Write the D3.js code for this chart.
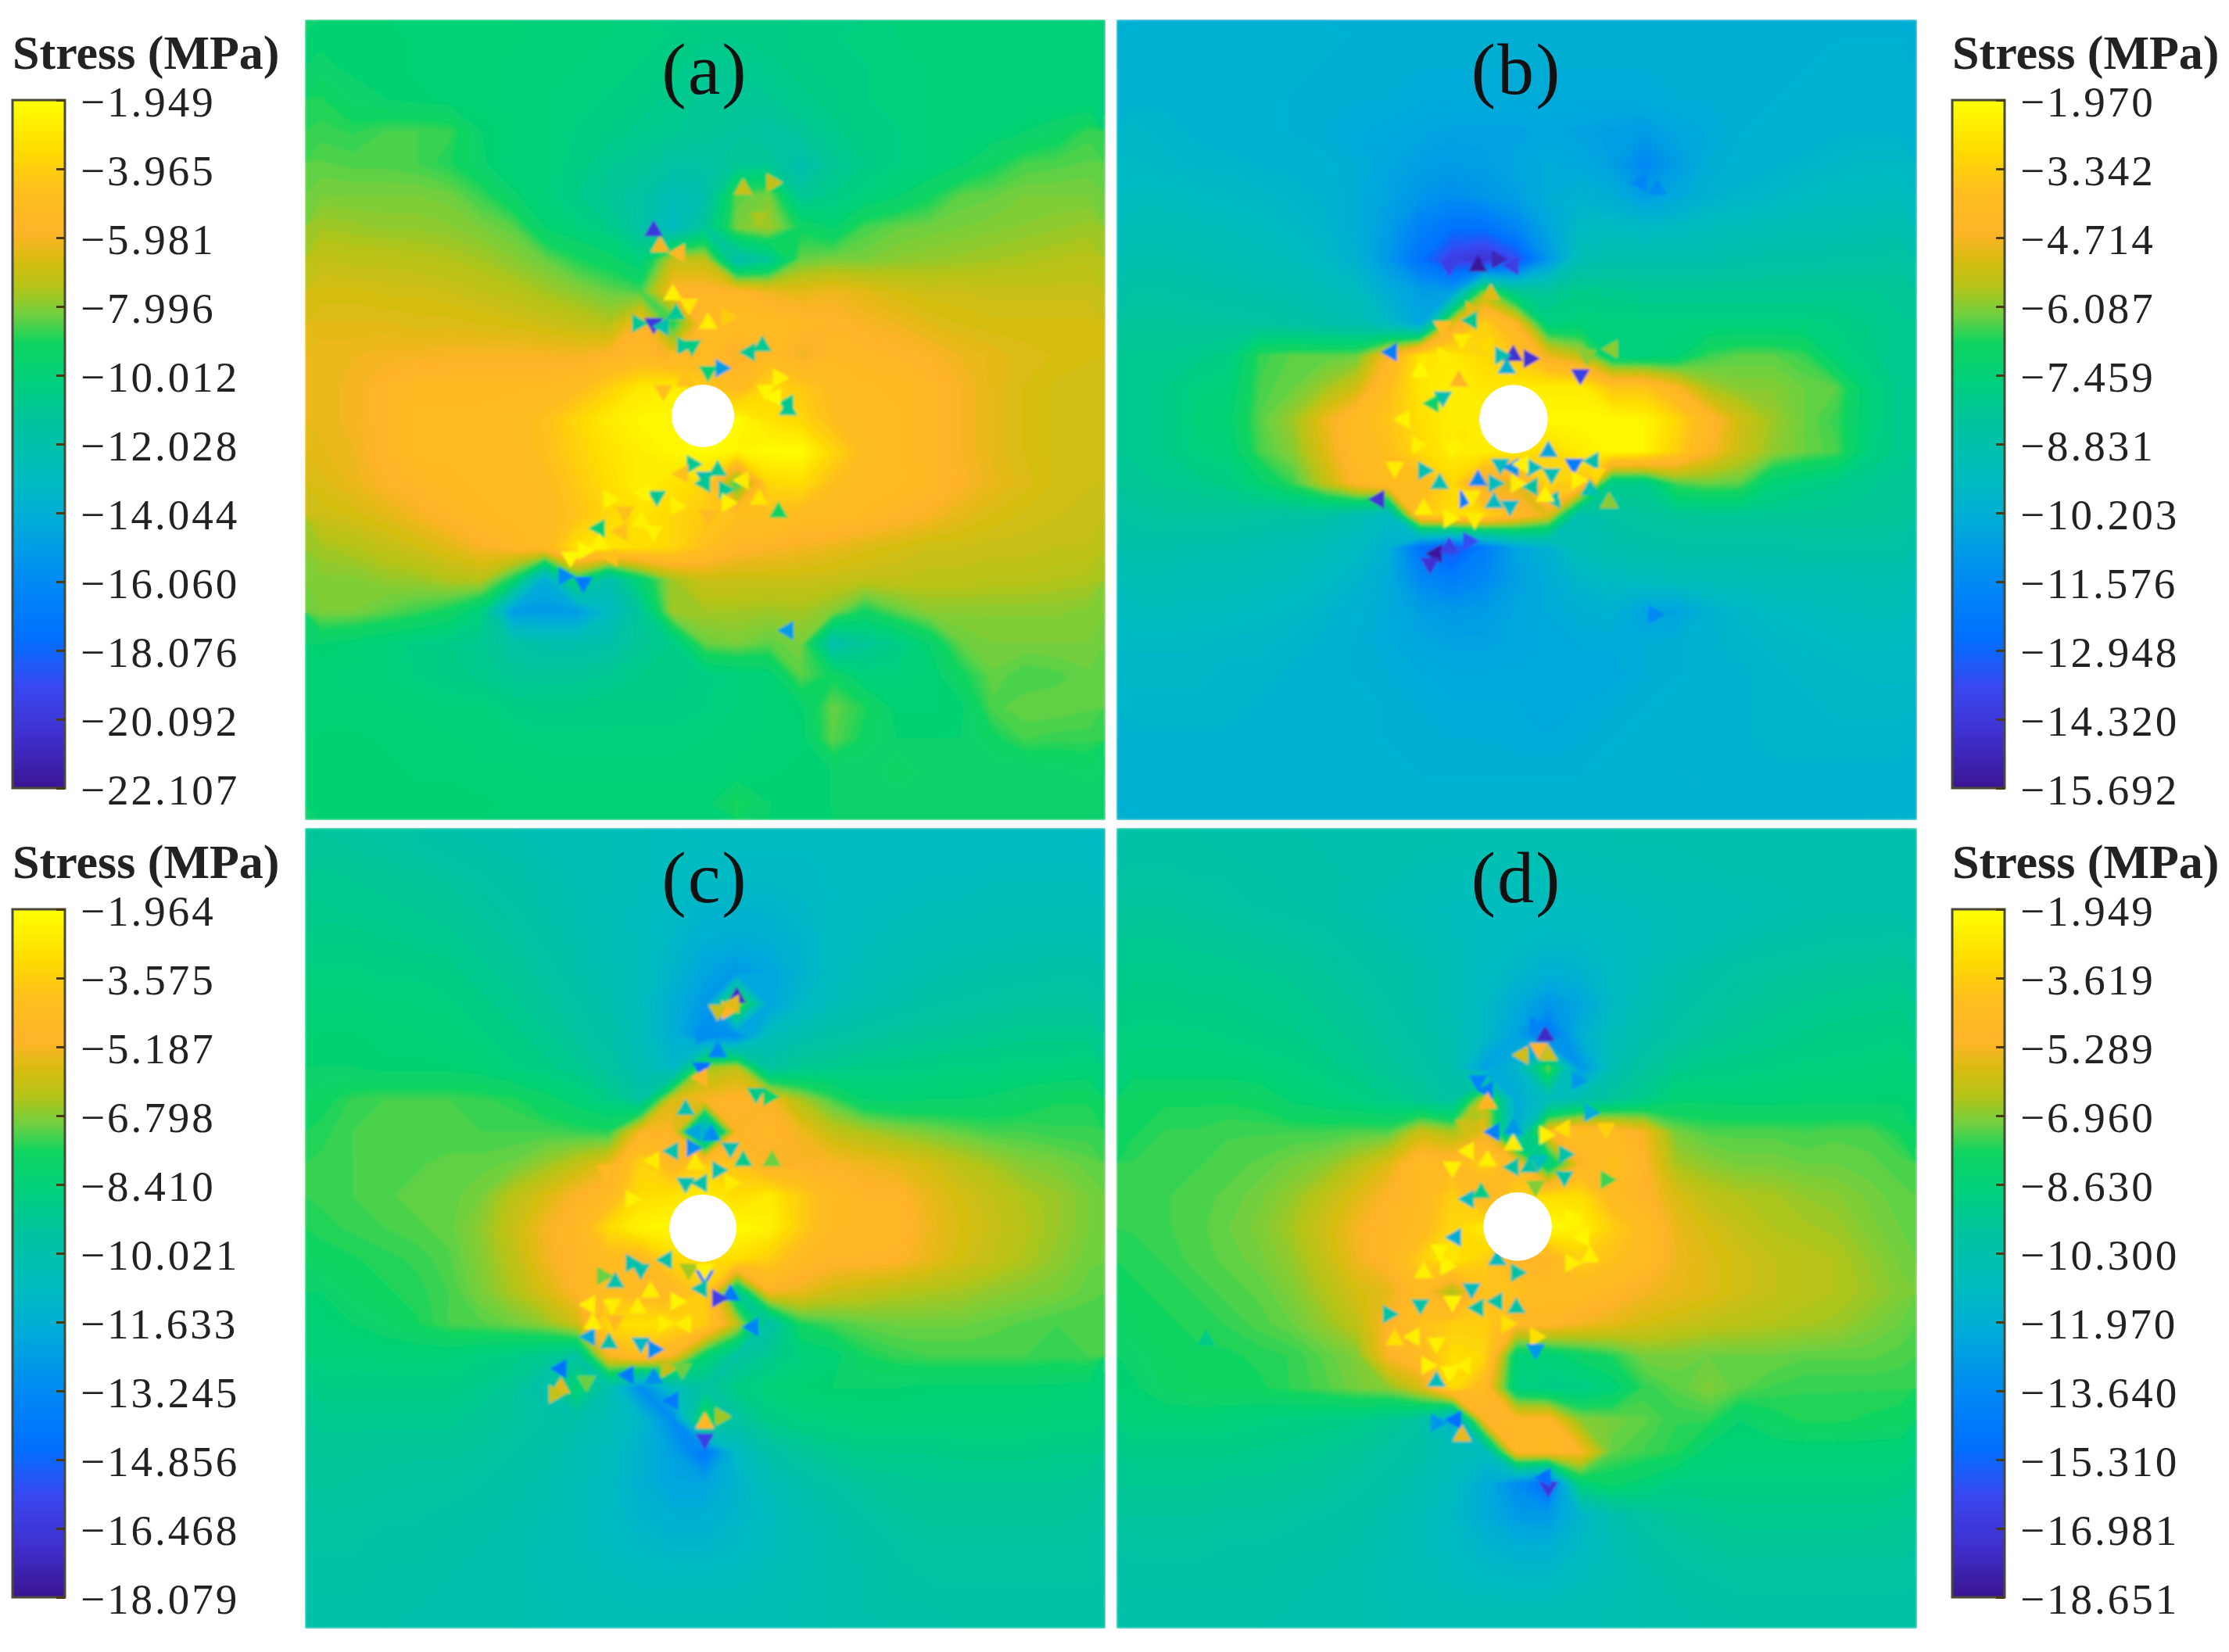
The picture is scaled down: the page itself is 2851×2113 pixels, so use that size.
<!DOCTYPE html>
<html>
<head>
<meta charset="utf-8">
<script src="https://cdn.jsdelivr.net/npm/d3@7"></script>
<style>
  html, body { margin: 0; background: #fff; }
  text { font-family: "Liberation Serif", serif; fill: #222; }
  .axis text { font-size: 55px; letter-spacing: 3px; }
  .axis line { stroke: #4a3a10; stroke-width: 3px; }
  .axis path { display: none; }
  .title { font-size: 62px; font-weight: bold; }
  .label { font-size: 94px; text-anchor: middle; fill: #111; letter-spacing: 2px; }
</style>
</head>
<body>
<svg width="2851" height="2113"></svg>
<script>
// legend ticks (MPa)
var ticksA = [-1.949, -3.965, -5.981, -7.996, -10.012, -12.028, -14.044, -16.060, -18.076, -20.092, -22.107];
var ticksB = [-1.970, -3.342, -4.714, -6.087, -7.459, -8.831, -10.203, -11.576, -12.948, -14.320, -15.692];
var ticksC = [-1.964, -3.575, -5.187, -6.798, -8.410, -10.021, -11.633, -13.245, -14.856, -16.468, -18.079];
var ticksD = [-1.949, -3.619, -5.289, -6.960, -8.630, -10.300, -11.970, -13.640, -15.310, -16.981, -18.651];

var labels = ["(a)", "(b)", "(c)", "(d)"];

// colour bar stops: fraction from top of bar -> colour
var barStops = [0, .07, .13, .19, .23, .27, .31, .35, .40, .47, .55, .62, .70, .78, .85, .92, 1];
var barColors = ["#ffff00", "#ffdc00", "#ffbe1e", "#ffb428", "#d8bc10", "#b4c418", "#70d040", "#10d460", "#00d078",
                 "#00c4a0", "#00bcc0", "#00a8dc", "#0088f4", "#0070ff", "#3848f0", "#4030d0", "#3a1490"];

// stress, on a 25 x 25 grid (MPa)
var stressA = [
[-9.6,-9.6,-9.6,-9.7,-9.7,-9.8,-9.8,-9.9,-10,-10,-10.1,-10.2,-10.4,-10.5,-10.4,-10.3,-10.2,-10.1,-10,-10,-10,-10,-10,-10,-10],
[-9.4,-9.6,-9.6,-9.7,-9.7,-9.8,-9.9,-10,-10,-10.1,-10.2,-10.4,-10.8,-10.8,-10.6,-10.4,-10.3,-10.2,-10.1,-10,-10,-10,-10,-10,-10],
[-8.8,-9.3,-9.5,-9.6,-9.7,-9.8,-9.9,-10,-10.1,-10.2,-10.4,-10.6,-11,-11,-10.9,-10.6,-10.4,-10.2,-10.1,-10,-10,-10,-10,-10,-10],
[-8.6,-8.7,-8.5,-8.5,-8.6,-9.5,-9.8,-10,-10.2,-10.4,-10.6,-10.8,-11,-11.2,-11.5,-11,-10.6,-10.3,-10.2,-10,-10,-9.8,-9.5,-9.2,-8.6],
[-8.3,-8.4,-8.4,-8.5,-8.8,-9.4,-10,-10,-10.3,-10.8,-11,-11.5,-11.5,-11,-11,-12,-11,-10.5,-10.2,-10,-9.6,-9,-8.5,-8.4,-8.3],
[-8,-8,-8,-8,-8.1,-8.6,-9.4,-10,-10.5,-11,-11.5,-12.5,-12,-8.3,-8,-11,-10.5,-10,-9.6,-9,-8.3,-8.2,-8,-8,-8],
[-7.5,-7.6,-7.7,-7.7,-7.8,-8,-8.3,-9.5,-10,-10.5,-11.5,-13,-11,-8,-7.5,-9,-9.5,-8.5,-8.2,-8.1,-8,-7.9,-7.8,-7.7,-7.6],
[-7,-7.1,-7.1,-7.2,-7.3,-7.5,-7.8,-8.2,-8.8,-9.2,-10,-7,-7,-12,-11,-8.2,-8,-8,-7.8,-7.7,-7.6,-7.5,-7.4,-7.3,-7.2],
[-6.6,-6.6,-6.7,-6.7,-6.8,-7,-7.2,-7.5,-7.8,-8.2,-8.5,-5.5,-5.5,-5.5,-6,-6.3,-6,-6.3,-6.6,-6.8,-6.8,-6.9,-6.9,-6.9,-6.9],
[-6.3,-6.3,-6.3,-6.4,-6.4,-6.5,-6.6,-6.8,-7,-7.3,-5.6,-9,-5,-5,-5,-5.2,-5.5,-5.8,-6,-6.3,-6.5,-6.6,-6.6,-6.6,-6.6],
[-6,-6,-5.9,-5.9,-5.8,-5.8,-5.8,-5.8,-5.9,-5.6,-5.2,-6,-5,-6,-5,-6,-5.3,-5.4,-5.5,-5.7,-6,-6.2,-6.4,-6.5,-6.6],
[-6.1,-5.9,-5.5,-5.2,-5.2,-5.2,-5.2,-5.2,-4.8,-3.8,-2.8,-2.5,-4,-5,-3.5,-4,-4.8,-5.1,-5.2,-5.4,-5.8,-6.2,-6.5,-6.7,-6.8],
[-6.1,-5.9,-5.5,-5.1,-5.1,-5.1,-4.9,-4.4,-3.5,-2.6,-2.2,-2.2,-2,-2,-3,-3.5,-4.6,-5,-5.1,-5.4,-5.8,-6.2,-6.5,-6.7,-6.8],
[-6.2,-6,-5.5,-5.1,-5.1,-5.1,-5,-4.5,-3.7,-3,-2.5,-2.2,-2,-2.3,-2,-2,-3.5,-4.8,-5.1,-5.4,-5.8,-6.2,-6.5,-6.7,-6.8],
[-6.4,-6.1,-5.7,-5.4,-5.2,-5.1,-5.1,-4.8,-4,-3.2,-2.5,-3,-3.5,-9,-3.5,-3.2,-4.5,-5,-5.1,-5.3,-5.7,-6.1,-6.4,-6.7,-6.8],
[-6.8,-6.6,-6.3,-5.9,-5.5,-5.2,-5.1,-4.9,-4.3,-3.5,-3,-3.5,-4,-4.5,-4.5,-5,-5,-5.2,-5.5,-5.8,-6.2,-6.5,-6.7,-6.8,-6.9],
[-7.5,-7.3,-7,-6.7,-6.3,-5.8,-5.4,-5,-3,-2.8,-3.2,-3.5,-4.5,-5.5,-5.7,-5.9,-6.1,-6.4,-6.6,-6.8,-6.8,-6.9,-6.9,-7,-7],
[-7.9,-7.9,-7.7,-7.6,-7.3,-7.2,-9,-14,-9,-12,-9.5,-7.5,-6.8,-6.8,-6.8,-6.8,-6.9,-7,-7,-7.1,-7.1,-7.2,-7.2,-7.3,-7.4],
[-8,-8,-8.3,-8.6,-9,-10,-15,-15,-15,-13,-11,-7.5,-7.5,-7.5,-7.6,-7.5,-7.9,-9,-8.3,-7.8,-7.8,-7.8,-7.8,-7.8,-7.9],
[-9.5,-9.7,-10,-10.3,-10.5,-10.8,-11.5,-12,-12,-11.8,-11,-10.5,-8.2,-8,-8.3,-8,-12,-11,-10.5,-9.5,-8.2,-8,-8,-8,-8],
[-9.8,-9.9,-10,-10.2,-10.4,-10.6,-11,-11,-11,-10.8,-10.5,-10.5,-10.3,-10,-9.8,-8.3,-9,-10,-10,-9.8,-9,-8.2,-8.5,-8.4,-8.2],
[-9.8,-9.8,-9.8,-9.9,-10,-10,-10.3,-10.4,-10.4,-10.3,-10.3,-10.3,-10.2,-10,-9.8,-9.6,-8.2,-8.8,-9.7,-9.7,-9.6,-8.4,-8.2,-8.2,-8.3],
[-9.6,-9.6,-9.7,-9.7,-9.8,-9.9,-10,-10.1,-10.1,-10.1,-10.1,-10.1,-10,-9.9,-9.8,-9.7,-8.3,-9,-9.5,-9.5,-9.5,-9,-8.5,-8.6,-8.6],
[-9.6,-9.6,-9.6,-9.7,-9.7,-9.8,-9.8,-9.9,-9.9,-9.9,-9.9,-9.9,-9.9,-9.8,-9.7,-9.6,-9.5,-9.5,-9,-9.4,-9.5,-9.5,-9.5,-9.4,-9.2],
[-9.6,-9.6,-9.6,-9.6,-9.6,-9.6,-9.7,-9.7,-9.7,-9.7,-9.7,-9.7,-9.7,-8.8,-9.5,-9.6,-9.5,-9.5,-9.5,-9.5,-9.5,-9.5,-9.5,-9.5,-9.5]
];

var stressB = [
[-10,-10,-10,-10,-10,-10,-10,-10.1,-10.1,-10.1,-10.1,-10.1,-10.1,-10.1,-10.1,-10.1,-10.1,-10.1,-10.1,-10.1,-10.1,-10.1,-10.1,-10.1,-10.1],
[-9.9,-9.9,-10,-10,-10,-10,-10.1,-10.1,-10.1,-10.2,-10.2,-10.2,-10.2,-10.2,-10.2,-10.2,-10.2,-10.2,-10.1,-10.1,-10.1,-10.1,-10,-10,-10],
[-9.9,-9.9,-10,-10,-10,-10.1,-10.1,-10.2,-10.2,-10.3,-10.3,-10.3,-10.3,-10.3,-10.3,-10.3,-10.3,-10.2,-10.2,-10.1,-10.1,-10,-10,-10,-10],
[-9.7,-9.8,-9.9,-10,-10,-10.1,-10.2,-10.3,-10.4,-10.5,-10.6,-10.6,-10.6,-10.5,-10.6,-10.7,-10.8,-10.5,-10.3,-10.1,-10,-10,-9.9,-9.9,-9.9],
[-9.6,-9.7,-9.8,-9.8,-9.9,-9.9,-10,-10.2,-10.5,-10.7,-10.8,-10.7,-10.5,-10.3,-10.4,-10.7,-11.6,-10.8,-10.2,-10,-9.9,-9.8,-9.7,-9.6,-9.6],
[-9.4,-9.4,-9.5,-9.6,-9.7,-9.8,-9.9,-10.2,-10.6,-11,-11.3,-11,-10.7,-10.2,-10,-10.2,-10.8,-10.4,-10,-9.8,-9.7,-9.5,-9.4,-9.4,-9.3],
[-9.1,-9.1,-9.2,-9.3,-9.4,-9.6,-9.8,-10.2,-10.8,-11.8,-12.5,-12.5,-11.6,-10.5,-9.5,-9.5,-9.6,-9.5,-9.3,-9.2,-9.1,-9,-9,-8.9,-8.9],
[-8.8,-8.8,-8.9,-9,-9.2,-9.3,-9.6,-10,-11,-12.5,-14,-14.5,-13.5,-11,-9,-8.8,-8.8,-8.8,-8.8,-8.7,-8.6,-8.6,-8.5,-8.5,-8.4],
[-8.5,-8.5,-8.6,-8.7,-8.8,-8.9,-9.1,-9.4,-10.2,-10.7,-10.8,-6,-8,-8.2,-7.8,-7.9,-8,-8,-8,-8,-8,-8,-8,-8,-8.1],
[-8.2,-8.2,-8.3,-8.3,-8.4,-8.5,-8.7,-8.9,-9.5,-10.5,-5,-3.2,-4.5,-7.5,-7.4,-7.5,-7.5,-7.5,-7.5,-7.5,-7.5,-7.5,-7.6,-7.8,-8],
[-8,-8,-7.9,-7.7,-6.5,-6.3,-6.3,-6.2,-4.5,-2.6,-2.5,-3,-3.5,-4.8,-5.5,-7.4,-7.5,-7.3,-6.5,-6.3,-6.3,-6.5,-7.4,-7.7,-8],
[-8,-7.8,-7.5,-7.4,-6.4,-6.2,-5.8,-5.2,-3.8,-2.6,-2.3,-2.6,-2.5,-2.4,-2.4,-3.5,-3.5,-4.5,-5.7,-6,-6,-6.2,-6.3,-7.4,-7.9],
[-8,-7.8,-7.4,-7.2,-6.3,-5.8,-4.8,-4,-3.5,-2.8,-2.4,-2.3,-2,-2.1,-2.1,-2.1,-2.2,-3,-4.2,-5.2,-5.8,-6.2,-6.5,-7.4,-7.9],
[-8,-7.8,-7.5,-7.4,-6.4,-6,-5,-4.1,-3.7,-3,-2.4,-2.4,-2.5,-3,-2.4,-2.1,-2.2,-3.2,-4.5,-5.3,-5.9,-6.2,-6.4,-7.5,-7.9],
[-8.1,-8,-7.9,-7.7,-7.2,-6.5,-5.5,-4.3,-3.8,-4,-3,-5,-5,-3,-3.5,-7.8,-7.8,-6.4,-6.2,-6.3,-7.3,-7.6,-7.8,-8,-8.1],
[-8.4,-8.3,-8.3,-8.3,-8.4,-8.5,-8.5,-9,-9.5,-3.5,-2.8,-3,-4,-5,-9,-8.5,-8.3,-8.2,-8.1,-8.1,-8.1,-8.1,-8.1,-8.1,-8.2],
[-8.7,-8.7,-8.8,-8.8,-8.9,-9,-9.2,-9.5,-10,-12.5,-13.5,-12,-10.5,-10,-9,-8.8,-8.7,-8.6,-8.6,-8.6,-8.6,-8.5,-8.5,-8.5,-8.5],
[-9,-9,-9.1,-9.1,-9.2,-9.3,-9.5,-9.8,-10.3,-11.5,-12,-11.5,-10.7,-10.2,-9.7,-9.5,-9.3,-9.2,-9.1,-9.1,-9,-9,-9,-8.9,-8.9],
[-9.3,-9.3,-9.4,-9.4,-9.5,-9.6,-9.8,-10,-10.3,-10.7,-10.9,-10.8,-10.5,-10.3,-10.1,-10,-10.6,-10.6,-10,-9.7,-9.5,-9.4,-9.3,-9.2,-9.2],
[-9.6,-9.6,-9.6,-9.7,-9.7,-9.8,-9.9,-10.1,-10.3,-10.5,-10.6,-10.6,-10.5,-10.4,-10.3,-10.3,-10.2,-10.1,-9.9,-9.8,-9.7,-9.6,-9.5,-9.5,-9.5],
[-9.7,-9.7,-9.7,-9.8,-9.8,-9.9,-10,-10.1,-10.2,-10.3,-10.4,-10.4,-10.4,-10.4,-10.4,-10.4,-10.2,-10.1,-10,-9.9,-9.8,-9.7,-9.7,-9.6,-9.6],
[-9.8,-9.8,-9.8,-9.8,-9.9,-9.9,-10,-10,-10.1,-10.2,-10.3,-10.3,-10.3,-10.4,-10.3,-10.2,-10.1,-10,-10,-9.9,-9.8,-9.8,-9.7,-9.7,-9.7],
[-9.9,-9.9,-9.9,-9.9,-9.9,-9.9,-10,-10,-10.1,-10.1,-10.2,-10.2,-10.3,-10.3,-10.2,-10.1,-10,-10,-9.9,-9.9,-9.8,-9.8,-9.8,-9.8,-9.8],
[-10,-10,-10,-10,-10,-10,-10,-10,-10,-10.1,-10.1,-10.1,-10.1,-10.1,-10.1,-10,-10,-10,-9.9,-9.9,-9.9,-9.9,-9.9,-9.9,-9.9],
[-10,-10,-10,-10,-10,-10,-10,-10,-10,-10,-10,-10,-10,-10,-10,-10,-10,-10,-10,-10,-10,-10,-10,-9.9,-9.9]
];

var stressC = [
[-9.3,-9.4,-9.5,-9.6,-9.8,-9.9,-10,-10.2,-10.3,-10.4,-10.5,-10.6,-10.7,-10.8,-10.8,-10.8,-10.8,-10.8,-10.8,-10.8,-10.8,-10.8,-10.8,-10.8,-10.8],
[-9,-9.1,-9.2,-9.3,-9.4,-9.6,-9.8,-10,-10.2,-10.4,-10.5,-10.7,-10.9,-10.9,-10.9,-10.9,-10.8,-10.8,-10.8,-10.7,-10.7,-10.6,-10.6,-10.6,-10.6],
[-8.9,-9,-9,-9.1,-9.2,-9.4,-9.6,-9.9,-10.1,-10.4,-10.6,-10.9,-11.2,-11.2,-11.2,-11,-10.8,-10.7,-10.6,-10.5,-10.5,-10.4,-10.4,-10.4,-10.4],
[-8.7,-8.7,-8.8,-8.9,-9,-9.2,-9.4,-9.7,-10,-10.3,-10.6,-11,-11.5,-11.6,-11.5,-11.2,-10.8,-10.6,-10.4,-10.3,-10.2,-10.2,-10.1,-10.1,-10.1],
[-8.5,-8.5,-8.6,-8.6,-8.7,-9,-9.2,-9.5,-9.9,-10.2,-10.6,-11.2,-12,-12.5,-12,-11.3,-10.7,-10.4,-10.2,-10,-9.9,-9.8,-9.8,-9.7,-9.7],
[-8.3,-8.3,-8.4,-8.4,-8.5,-8.7,-9,-9.3,-9.6,-10,-10.6,-11.5,-12.5,-6,-12,-11,-10.5,-10.1,-9.9,-9.7,-9.6,-9.5,-9.4,-9.4,-9.4],
[-8.1,-8.1,-8.2,-8.2,-8.3,-8.5,-8.7,-9,-9.4,-9.8,-10.5,-11.5,-13,-13,-10.5,-10,-9.7,-9.5,-9.3,-9.2,-9.1,-9,-8.9,-8.9,-8.9],
[-8,-8,-8.1,-8.1,-8.1,-8.2,-8.5,-8.7,-9,-9.5,-10.2,-11,-6.5,-6,-9.5,-9,-8.9,-8.7,-8.7,-8.6,-8.5,-8.5,-8.4,-8.4,-8.3],
[-7.6,-7.3,-7.2,-7.2,-7.2,-7.3,-7.4,-7.8,-8.2,-8.7,-9.5,-5.5,-5,-4.8,-5,-6.3,-7.2,-8,-8.1,-8,-8,-7.9,-7.7,-7.5,-7.5],
[-7.4,-7.2,-7.2,-7.2,-7.2,-7.2,-7.2,-7.2,-7.3,-7.4,-5,-5,-12,-5,-4.7,-5.2,-6,-6.3,-6.6,-6.8,-7,-7.2,-7.2,-7.3,-7.3],
[-7.3,-7.2,-7.1,-7.1,-7,-7,-6.9,-6.5,-6,-5.4,-3.3,-4.5,-3.5,-3.8,-5,-5,-5,-5.2,-5.4,-5.7,-6.1,-6.4,-6.7,-6.8,-7],
[-7.3,-7.2,-7.1,-7,-7,-6.8,-6.1,-5.6,-4.9,-4.5,-3,-2.8,-2.5,-3,-2.5,-3.5,-4.5,-4.8,-4.8,-5.3,-5.7,-6,-6.3,-6.5,-6.8],
[-7.4,-7.3,-7.2,-7.1,-7,-6.6,-5.9,-5.1,-4.7,-3,-2.2,-2.1,-2,-2,-2.3,-3.5,-4.6,-4.7,-4.7,-5.2,-5.6,-5.9,-6.2,-6.5,-6.8],
[-7.6,-7.5,-7.4,-7.3,-7.1,-6.7,-6.1,-5.2,-4.7,-4.3,-4.5,-3.2,-3,-3,-3.5,-4.5,-4.8,-4.8,-4.9,-5.3,-5.7,-6,-6.3,-6.6,-6.9],
[-8,-7.7,-7.5,-7.4,-7.2,-6.8,-6.3,-5.6,-4.9,-4,-4.5,-4.5,-3.5,-9,-5,-5.3,-5.8,-6,-6.2,-6.3,-6.4,-6.6,-6.7,-6.8,-7],
[-8.2,-8,-7.8,-7.5,-7.2,-7.1,-6.9,-6.6,-5.8,-3,-2.8,-3,-3.5,-6,-10,-7.5,-7.2,-7,-6.9,-6.9,-6.9,-7,-7.1,-7.2,-7.2],
[-8.4,-8.4,-8.3,-8.3,-8.3,-8.5,-8.7,-9,-9.5,-5,-4,-5,-8,-9.5,-9,-8.5,-8.2,-7.5,-7.3,-7.2,-7.2,-7.2,-7.2,-7.3,-7.2],
[-8.7,-8.7,-8.7,-8.7,-8.7,-8.9,-9.2,-10,-8,-10,-13,-10.5,-9.5,-8.7,-8.3,-8.1,-8,-8,-8,-8.1,-8.1,-8.1,-8.1,-8.1,-8.2],
[-9,-9,-9,-9,-9,-9.2,-9.4,-9.6,-9.9,-10.4,-11,-13,-7,-9.5,-8.8,-8.5,-8.4,-8.3,-8.3,-8.3,-8.3,-8.3,-8.3,-8.4,-8.4],
[-9.2,-9.2,-9.3,-9.3,-9.3,-9.4,-9.6,-9.8,-10.2,-10.6,-11.3,-12.2,-14,-10.8,-9.8,-9.3,-9,-8.8,-8.8,-8.8,-8.7,-8.7,-8.7,-8.8,-8.8],
[-9.3,-9.4,-9.4,-9.5,-9.5,-9.6,-9.8,-10,-10.3,-10.8,-11.4,-12,-12,-11.2,-10.4,-9.9,-9.6,-9.3,-9.2,-9.1,-9.1,-9.1,-9.1,-9.1,-9.2],
[-9.5,-9.5,-9.6,-9.6,-9.7,-9.8,-9.9,-10.1,-10.4,-10.8,-11.2,-11.5,-11.5,-11.1,-10.7,-10.2,-9.9,-9.6,-9.4,-9.3,-9.3,-9.3,-9.3,-9.3,-9.4],
[-9.6,-9.6,-9.7,-9.7,-9.8,-9.9,-10,-10.2,-10.4,-10.7,-10.9,-11.1,-11.1,-10.9,-10.6,-10.3,-10,-9.8,-9.6,-9.5,-9.5,-9.5,-9.5,-9.5,-9.5],
[-9.7,-9.7,-9.8,-9.8,-9.9,-9.9,-10,-10.2,-10.3,-10.5,-10.6,-10.6,-10.6,-10.6,-10.4,-10.2,-10,-9.9,-9.7,-9.6,-9.6,-9.6,-9.6,-9.6,-9.6],
[-9.8,-9.8,-9.8,-9.9,-9.9,-10,-10,-10.1,-10.2,-10.3,-10.4,-10.4,-10.4,-10.4,-10.3,-10.1,-10,-9.9,-9.8,-9.8,-9.7,-9.7,-9.7,-9.7,-9.7]
];

var stressD = [
[-10,-10,-10,-10.1,-10.1,-10.1,-10.2,-10.2,-10.3,-10.3,-10.3,-10.4,-10.4,-10.4,-10.4,-10.3,-10.3,-10.3,-10.2,-10.2,-10.2,-10.2,-10.2,-10.2,-10.2],
[-9.8,-9.8,-9.9,-9.9,-10,-10.1,-10.1,-10.2,-10.3,-10.5,-10.6,-10.7,-10.7,-10.7,-10.7,-10.6,-10.5,-10.4,-10.4,-10.3,-10.3,-10.3,-10.2,-10.2,-10.2],
[-9.6,-9.6,-9.7,-9.8,-9.9,-10,-10.1,-10.3,-10.5,-10.7,-10.9,-11,-11,-11,-11,-10.9,-10.8,-10.7,-10.6,-10.5,-10.4,-10.3,-10.2,-10.2,-10.2],
[-9.3,-9.3,-9.4,-9.5,-9.6,-9.7,-9.8,-10,-10.2,-10.5,-10.8,-11,-11.1,-11.2,-11.2,-11.1,-10.9,-10.7,-10.5,-10.3,-10.1,-10,-9.9,-9.9,-9.8],
[-9.1,-9.1,-9.2,-9.2,-9.3,-9.4,-9.6,-9.8,-10,-10.2,-10.6,-11,-11.4,-11.8,-11.6,-11.1,-10.7,-10.3,-10,-9.8,-9.7,-9.6,-9.5,-9.5,-9.4],
[-8.9,-8.9,-9,-9,-9.1,-9.2,-9.4,-9.6,-9.9,-10.2,-10.6,-11.2,-12,-13,-12.3,-11.2,-10.5,-10.1,-9.8,-9.6,-9.4,-9.3,-9.2,-9.1,-9.1],
[-8.7,-8.7,-8.7,-8.8,-8.9,-9,-9.2,-9.4,-9.7,-10,-10.5,-11.2,-12.5,-14.5,-11.8,-10.8,-10.2,-9.8,-9.5,-9.3,-9.2,-9,-8.9,-8.9,-8.8],
[-8.5,-8.5,-8.5,-8.5,-8.6,-8.7,-8.9,-9.2,-9.5,-9.8,-10.3,-12.5,-11.5,-7,-13,-10.5,-9.7,-9.2,-9,-8.9,-8.8,-8.7,-8.7,-8.6,-8.5],
[-7.7,-7.7,-7.7,-7.7,-7.8,-8.3,-8.5,-8.7,-9,-9.4,-9.9,-6,-12,-10.8,-10.2,-9.5,-9,-8.3,-8.3,-8.4,-8.4,-8.3,-8.3,-8.3,-8.3],
[-7.7,-7.5,-7.5,-7.4,-7.4,-7.4,-7.4,-7.3,-7.3,-6,-6.5,-5.5,-12,-5,-4,-4.5,-5.2,-7,-7.3,-7.3,-7.3,-7.4,-7.3,-7.3,-7.7],
[-7.5,-7.4,-7.4,-7.3,-7.2,-7,-6.8,-6.3,-5.6,-4.5,-4.5,-3.5,-4.5,-9,-5,-4,-5,-6.5,-6.8,-7,-7,-7.1,-7.1,-7.2,-7.3],
[-7.5,-7.4,-7.3,-7.2,-7,-6.7,-6.2,-5.6,-5,-4.6,-3.5,-5,-3.5,-3,-3,-4.5,-4.9,-5.7,-6.2,-6.4,-6.5,-6.7,-6.8,-7,-7.2],
[-7.5,-7.4,-7.3,-7.1,-6.9,-6.5,-5.9,-5.2,-4.8,-4.5,-3.2,-2.5,-2,-2,-2.3,-3.5,-4.4,-5.4,-5.8,-6.1,-6.4,-6.5,-6.6,-6.9,-7.1],
[-7.6,-7.5,-7.3,-7.2,-7,-6.7,-6.1,-5.3,-4.8,-3.5,-2.6,-3.5,-5,-5,-3.5,-4,-4.5,-5.3,-5.6,-5.9,-6.1,-6.3,-6.4,-6.7,-7],
[-7.7,-7.6,-7.5,-7.3,-7.2,-6.9,-6.4,-5.8,-5.5,-4.5,-6.5,-4,-4,-4.5,-4.5,-4.8,-5.2,-5.4,-5.6,-5.9,-6.1,-6.3,-6.4,-6.6,-6.9],
[-7.8,-7.7,-7.6,-7.5,-7.3,-7.1,-6.7,-6.2,-5,-4,-3.5,-3.5,-4.8,-4.8,-5.2,-5.5,-5.8,-6,-6.2,-6.3,-6.4,-6.5,-6.6,-6.9,-7.1],
[-8.1,-7.8,-7.7,-7.7,-7.6,-7.5,-7.2,-6.9,-5,-4.5,-3,-3.2,-8.5,-8.5,-8,-7.6,-7,-7,-7.1,-7.1,-7.1,-7.2,-7.2,-7.2,-7.3],
[-8.3,-7.9,-7.8,-7.7,-7.7,-7.5,-7.3,-7,-6.8,-5.8,-3,-4.5,-8.7,-9,-9,-8.5,-7.5,-7.2,-6.9,-7.2,-7.4,-7.5,-7.5,-7.5,-7.5],
[-8.5,-8.5,-8.5,-8.6,-8.7,-8.8,-8.9,-9,-9.3,-9.8,-12,-5,-4.8,-4.8,-6.8,-7,-7.2,-7.5,-7.5,-8.2,-7.8,-7.6,-7.6,-7.7,-7.8],
[-9,-9,-9,-9,-9.1,-9.2,-9.3,-9.5,-9.8,-10.1,-10.6,-10.9,-4.8,-4.6,-5,-7.2,-7.4,-7.6,-8.4,-8.5,-8.5,-8.5,-8.5,-8.5,-8.5],
[-9.3,-9.3,-9.3,-9.4,-9.4,-9.5,-9.6,-9.8,-10,-10.4,-11,-12,-13.5,-15,-8.5,-8,-8.4,-8.9,-8.8,-8.8,-8.8,-8.8,-8.8,-8.8,-8.9],
[-9.6,-9.6,-9.6,-9.7,-9.7,-9.8,-9.9,-10,-10.3,-10.7,-11.2,-12,-12.7,-12.8,-11.5,-10.4,-9.8,-9.4,-9.3,-9.2,-9.2,-9.2,-9.2,-9.2,-9.3],
[-9.8,-9.8,-9.8,-9.9,-9.9,-10,-10,-10.2,-10.4,-10.7,-11.1,-11.5,-11.8,-11.8,-11.2,-10.6,-10.1,-9.8,-9.6,-9.5,-9.5,-9.5,-9.5,-9.5,-9.5],
[-10,-10,-10,-10,-10,-10.1,-10.2,-10.3,-10.5,-10.7,-10.9,-11.1,-11.2,-11.2,-10.9,-10.6,-10.3,-10,-9.9,-9.8,-9.8,-9.8,-9.8,-9.8,-9.8],
[-10.1,-10.1,-10.1,-10.1,-10.1,-10.2,-10.2,-10.3,-10.4,-10.5,-10.6,-10.6,-10.6,-10.6,-10.5,-10.4,-10.3,-10.2,-10.1,-10,-10,-10,-10,-10,-10]
];

// single mesh elements around the hole that the grid is too coarse for: [column, row, stress]
var elementsA = [
[10.9,6.6,-20],[10.4,9.5,-11],[10.9,9.5,-20],[11.2,9.6,-12],[11.6,9.2,-11],[11.8,10.2,-11],[12.1,10.2,-10.5],[13.9,10.4,-11],
[14.3,10.2,-11],[13,10.9,-15],[12.6,11,-10],[15.1,12,-10.5],[15.1,12.2,-11],[12.1,13.9,-11],[12.5,14.3,-12],[12.5,14.5,-11],
[12.9,14.1,-11],[13.1,14.7,-11],[11,14.9,-11],[9.2,15.9,-10],[14.8,15.4,-9],[8.1,17.4,-16],[8.7,17.6,-17],[15.1,19.1,-15],
[11.5,8.6,-2.5],[14.8,11.2,-2.5],[11.2,11.6,-4.5],[13.7,14.4,-2.8],[14.2,15,-3],[13.2,15.1,-2.5],[10.9,16,-2.5],[9.6,16.8,-4.5],
[13.7,5.3,-7],[14.6,5.1,-7],[14.2,6.2,-7.5],[11.7,7.3,-5.5],[11.1,7.1,-6],
[9.5,15,-2.4],[10,15.4,-4.5],[10.6,14.8,-2.4],[9.2,16.4,-2.4],[8.7,16.6,-2.2],[8.3,16.8,-2.2],[9.9,16,-4.5],[10.5,15.7,-2.5],
[11.6,15.2,-2.5],[12.6,15.5,-5],[11.8,14.2,-4.5],[12.6,9.5,-2.6],[13.2,9.3,-4],[14.4,11.6,-2.4],[14.7,11.8,-2.2],[11.9,11.3,-4.5],
[11.6,10.6,-5],[12,8.9,-3]
];
var elementsB = [
[11.3,7.7,-15.5],[11.9,7.5,-15],[10.4,7.7,-14],[12.4,7.7,-14],[11.7,8.6,-5],[11.1,9.1,-5],[10.2,9.6,-4],[11.1,9.4,-8],
[12.4,10.5,-14.5],[12.9,10.6,-14.5],[14.5,11.1,-14],[8.6,10.4,-12],[12.2,10.9,-10],[12,10.5,-9],[10.2,11.8,-9],[9.9,12,-7],
[10.1,14.5,-9],[9.6,14.1,-9],[12,13.9,-9.5],[12.4,14,-11],[13.5,13.5,-10.5],[13,14,-9.5],[14.3,13.9,-12],[14.9,13.8,-9],
[11.3,14.4,-11.5],[11.8,14.5,-9.5],[13.6,14.2,-9],[13,14.6,-8.5],[11.8,15.1,-9.5],[10.9,15,-12],[12.3,15.2,-9.5],[13.7,15,-9],
[14.8,14.7,-9],[14,14.7,-3.5],[15,14.2,-3],[8.2,15,-14.5],[15.4,15.1,-6],[12.5,14.5,-2.5],[11.1,14.9,-2.5],[10,16.7,-15.5],
[10.4,16.5,-14],[11,16.3,-13.5],[9.8,17,-14.5],[16.4,5.1,-11.6],[16.9,5.3,-11.5],[16.8,18.6,-11.6],[14.7,10.5,-6],[15.5,10.3,-6],
[9.5,11,-2.2],[10.2,10.5,-2.5],[10.8,10,-2.5],[11.6,10.2,-3],[10.7,11.3,-4.5],[9.4,13.3,-2.4],[10.5,13.4,-2.3],[10.8,13,-2.6],
[9.6,15.3,-2.4],[10.4,15.6,-2.3],[11.2,15.6,-2.5],[12.7,13.9,-2.3],[13.4,14.9,-2.3],[14.4,14.4,-2.4],[8.7,14,-2.5],[9,12.5,-2.3]
];
var elementsC = [
[13.5,5.3,-17],[13.2,5.7,-5],[12.9,5.7,-6],[13.4,5.5,-5.5],[12.9,7,-13.5],[12.4,6.5,-13],[12.4,7.5,-14.5],[12.4,7.8,-5],
[11.9,8.8,-10],[14.5,8.4,-8],[14.1,8.3,-9],[12.2,9.5,-12],[12.7,9.6,-13],[12.1,10,-13],[13.3,10,-10],[11.5,10.1,-10],
[13.7,10.4,-9],[12.9,10.7,-10],[11.9,11.1,-10],[12.4,11.1,-10],[14.6,10.4,-7],[10.2,13.6,-10],[10.5,13.8,-10],[11.3,13.5,-10],
[9.7,14.2,-10],[9.3,14,-7],[12.5,14,-14],[12.4,14.4,-10],[13.3,14.6,-14],[12.9,14.7,-16],[12,13.8,-6.5],[8.9,15.9,-12],
[9.5,16.1,-10],[10.9,16.3,-13],[10.5,16.1,-11],[8,16.9,-14.5],[8,17.5,-5.5],[7.8,17.7,-6],[8.8,17.3,-7],[10.1,17.1,-14],
[10.9,17.2,-13],[11.3,16.9,-6],[11.8,16.9,-7],[11.5,17.9,-14],[12.5,18.6,-4.5],[13,18.4,-6.5],[12.5,19.1,-16],[14,15.6,-13.5],
[10.4,15,-2.5],[11.2,15.5,-2.5],[9.6,14.9,-2.5],[11.9,15.5,-2.5],[9,15.5,-2.5],
[10.2,11.6,-2.4],[9.4,10.7,-4.5],[10.9,10.4,-2.6],[12.2,10.5,-2.6],[13.3,11.1,-2.6],[9.7,15.4,-4.5],[8.9,14.9,-2.4],[10.8,14.5,-2.5],
[11.6,14.8,-2.3],[12.5,13.8,-2.4]
];
var elementsD = [
[13.4,6.5,-17.5],[13.1,6.2,-14],[13.2,6.9,-5],[12.7,7.1,-6],[13.5,7.1,-6],[14.4,7.9,-13],[11.3,7.9,-14],[11.6,8.2,-14],
[11.6,8.6,-5],[11.2,9,-6.5],[10.9,9.3,-6],[11.8,9.5,-14],[12.4,9.4,-13],[14.8,8.9,-12],[13.2,10.4,-11],[12.4,10.6,-10],
[12.9,10.6,-10],[14,10.2,-10],[14,10.9,-10],[11,11.6,-11],[11.4,11.4,-9],[15.3,11,-7.5],[13.1,11.2,-7],[10.6,12.8,-12],
[11.9,13.5,-11],[12.5,13.9,-10],[11.1,14.4,-11],[11.9,14.8,-10],[12.5,15,-10],[8.5,15.2,-10],[9.5,14.9,-10],[11.3,15,-10],
[10,17.3,-11],[13.1,15.9,-3],[13.1,16.3,-13],[10.6,18.5,-15],[10.8,19,-5.5],[10,18.6,-13],[13.5,20.6,-17],[13.4,20.3,-15],
[2.8,16,-9],[10.3,13.7,-2.3],[10,16.1,-2.5],[10.9,16.8,-2.5],[9.6,13.9,-2.5],[14.2,12.2,-2.2],[15.3,9.4,-3.5],[14,9.4,-3],
[11.6,10.4,-2.5],[12.2,15.5,-3],
[10.5,10.6,-2.4],[11,10.1,-2.5],[12.4,9.9,-2.6],[13.4,9.6,-2.5],[10.5,14.8,-2.3],[9.3,15.9,-2.4],[8.7,16,-3],[9.7,16.8,-2.4],
[10.4,17,-2.3],[14.6,12.8,-2.2],[14.8,13.4,-2.4],[14.2,13.6,-2.5],[10.1,13.2,-2.3]
];

// hole in the middle of each plate: [column, row, radius]
var holeA = [12.44, 12.39, 0.98];
var holeB = [12.41, 12.49, 1.07];
var holeC = [12.44, 12.51, 1.05];
var holeD = [12.54, 12.46, 1.07];

var svg = d3.select("svg");

var defs = svg.append("defs");
defs.append("filter").attr("id", "soft")
    .attr("x", 0).attr("y", 0).attr("width", 1).attr("height", 1)
  .append("feGaussianBlur").attr("stdDeviation", 1.6).attr("edgeMode", "duplicate");

var panelSize = 1023, barWidth = 67, barHeight = 880, nGrid = 25;

var barColor = d3.scaleLinear().domain(barStops).range(barColors).clamp(true);

var panels = [
  {label: labels[0], grid: stressA, elements: elementsA, hole: holeA, ticks: ticksA, x: 390, y: 25, barX: 16, barY: 128},
  {label: labels[1], grid: stressB, elements: elementsB, hole: holeB, ticks: ticksB, x: 1428, y: 25, barX: 2497, barY: 128},
  {label: labels[2], grid: stressC, elements: elementsC, hole: holeC, ticks: ticksC, x: 390, y: 1059, barX: 16, barY: 1163},
  {label: labels[3], grid: stressD, elements: elementsD, hole: holeD, ticks: ticksD, x: 1428, y: 1059, barX: 2497, barY: 1163}
];

panels.forEach(function(p, k) {
  p.grid.forEach(function(row, i) {
    if (row.length != nGrid) throw new Error("panel " + k + " row " + i + " has " + row.length);
  });
  if (p.grid.length != nGrid) throw new Error("panel " + k + " rows " + p.grid.length);

  var top = p.ticks[0], bottom = p.ticks[p.ticks.length - 1];
  var frac = d3.scaleLinear().domain([top, bottom]).range([0, 1]);
  var x = d3.scaleLinear().domain([0, nGrid]).range([0, panelSize]);
  var y = d3.scaleLinear().domain([0, nGrid]).range([0, panelSize]);

  var g = svg.append("g").attr("transform", "translate(" + p.x + "," + p.y + ")");

  var project = d3.geoTransform({point: function(a, b) { this.stream.point(x(a), y(b)); }});
  var path = d3.geoPath(project);
  var levels = d3.range(bottom, top, (top - bottom) / 120);
  var contours = d3.contours().size([nGrid, nGrid]).thresholds(levels)(p.grid.flat());

  var field = g.append("g").attr("filter", "url(#soft)");

  // plain cells underneath so the corners the contours cut off stay filled
  field.selectAll(".cell")
    .data(p.grid.flat())
    .enter().append("rect")
      .attr("class", "cell")
      .attr("x", function(d, i) { return x(i % nGrid); })
      .attr("y", function(d, i) { return y(Math.floor(i / nGrid)); })
      .attr("width", x(1) + 1)
      .attr("height", y(1) + 1)
      .attr("fill", function(d) { return barColor(frac(d)); });

  field.selectAll(".band")
    .data(contours)
    .enter().append("path")
      .attr("class", "band")
      .attr("d", path)
      .attr("fill", function(d) { return barColor(frac(d.value)); });

  // triangles for the broken-up elements near the hole
  var tri = d3.symbol().type(d3.symbolTriangle).size(260);
  field.selectAll(".element")
    .data(p.elements)
    .enter().append("path")
      .attr("class", "element")
      .attr("d", tri)
      .attr("transform", function(d, i) {
        return "translate(" + x(d[0]) + "," + y(d[1]) + ") rotate(" + (i % 4) * 90 + ")";
      })
      .attr("fill", function(d) { return barColor(frac(d[2])); });

  g.append("circle")
    .attr("cx", x(p.hole[0]))
    .attr("cy", y(p.hole[1]))
    .attr("r", x(p.hole[2]))
    .attr("fill", "#fff");

  g.append("text")
    .attr("class", "label")
    .attr("x", x(nGrid / 2))
    .attr("y", 95)
    .text(p.label);

  // colour bar
  var barY = d3.scaleLinear().domain([top, bottom]).range([0, barHeight]);
  var bar = svg.append("g").attr("transform", "translate(" + p.barX + "," + p.barY + ")");
  var steps = d3.range(0, 220);

  bar.selectAll(".step")
    .data(steps)
    .enter().append("rect")
      .attr("class", "step")
      .attr("x", 0)
      .attr("y", function(d) { return d / 220 * barHeight; })
      .attr("width", barWidth)
      .attr("height", barHeight / 220 + 1)
      .attr("fill", function(d) { return barColor(d / 220); });

  bar.append("rect")
    .attr("width", barWidth)
    .attr("height", barHeight)
    .attr("fill", "none")
    .attr("stroke", "#4a4a3a")
    .attr("stroke-width", 3);

  var axis = bar.append("g")
    .attr("class", "axis")
    .attr("transform", "translate(" + barWidth + ",0)")
    .call(d3.axisRight(barY).tickValues(p.ticks).tickSizeInner(-11).tickSizeOuter(0).tickPadding(20)
      .tickFormat(function(d) { return "\u2212" + Math.abs(d).toFixed(3); }));
  axis.selectAll("text").attr("dy", "0.38em");

  bar.append("text")
    .attr("class", "title")
    .attr("x", 0)
    .attr("y", -40)
    .text("Stress (MPa)");
});
</script>
</body>
</html>
